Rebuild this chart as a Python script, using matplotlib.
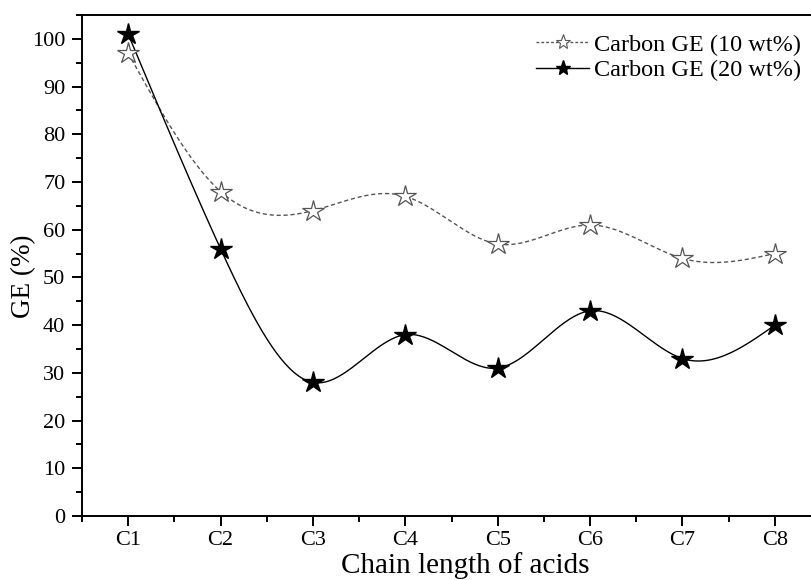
import numpy as np
import matplotlib.pyplot as plt
from matplotlib.ticker import MultipleLocator

plt.rcParams['font.family'] = ['Liberation Serif', 'DejaVu Serif']
plt.rcParams['mathtext.fontset'] = 'stix'

# data
labels = ['C1', 'C2', 'C3', 'C4', 'C5', 'C6', 'C7', 'C8']
ge_10 = [97, 68, 64, 67, 57, 61, 54, 55]
ge_20 = [101, 56, 28, 38, 31, 43, 33, 40]


def spline(x, y, n=40):
    # natural cubic spline, only used to draw the smooth connecting line
    x = np.asarray(x, float)
    y = np.asarray(y, float)
    k = len(x)
    h = np.diff(x)
    A = np.zeros((k, k))
    b = np.zeros(k)
    A[0, 0] = A[-1, -1] = 1
    for i in range(1, k - 1):
        A[i, i - 1] = h[i - 1]
        A[i, i] = 2 * (h[i - 1] + h[i])
        A[i, i + 1] = h[i]
        b[i] = 3 * ((y[i + 1] - y[i]) / h[i] - (y[i] - y[i - 1]) / h[i - 1])
    c = np.linalg.solve(A, b)
    xs, ys = [], []
    for i in range(k - 1):
        t = np.linspace(0, h[i], n, endpoint=(i == k - 2))
        bi = (y[i + 1] - y[i]) / h[i] - h[i] * (2 * c[i] + c[i + 1]) / 3
        di = (c[i + 1] - c[i]) / (3 * h[i])
        xs.append(x[i] + t)
        ys.append(y[i] + bi * t + c[i] * t ** 2 + di * t ** 3)
    return np.concatenate(xs), np.concatenate(ys)


x = np.arange(1, len(labels) + 1)

fig = plt.figure(figsize=(8.11, 5.80), dpi=100)
ax = fig.add_axes([82 / 811, 64 / 580, 739 / 811, 501 / 580])

sx, sy = spline(x, ge_10)
ax.plot(sx, sy, color='#555555', linestyle=(0, (3, 2)), linewidth=1.0)
sx, sy = spline(x, ge_20)
ax.plot(sx, sy, color='black', linestyle='-', linewidth=1.0)

ax.plot(x, ge_10, linestyle='none', marker='*', markersize=16,
        markerfacecolor='white', markeredgecolor='#555555', markeredgewidth=0.9)
ax.plot(x, ge_20, linestyle='none', marker='*', markersize=16,
        markerfacecolor='black', markeredgecolor='black')

# legend handles
h1, = ax.plot([], [], color='#555555', linestyle=(0, (2, 1.5)), linewidth=1.0,
              marker='*', markersize=11, markerfacecolor='white',
              markeredgecolor='#555555', markeredgewidth=0.8)
h2, = ax.plot([], [], color='black', linewidth=1.0, marker='*',
              markersize=11, markerfacecolor='black')
ax.legend([h1, h2], ['Carbon GE (10 wt%)', 'Carbon GE (20 wt%)'],
          loc='upper right', bbox_to_anchor=(0.993, 0.992), frameon=False,
          fontsize=17.5, handlelength=2.2, handletextpad=0.2, labelspacing=0.15,
          borderaxespad=0.2)

ax.set_xlim(0.5, 8.5)
ax.set_ylim(0, 105)
ax.set_xticks(x)
ax.set_xticklabels(labels)
ax.xaxis.set_minor_locator(MultipleLocator(1, offset=0.5))
ax.yaxis.set_major_locator(MultipleLocator(10))
ax.yaxis.set_minor_locator(MultipleLocator(5))
ax.tick_params(which='major', direction='out', length=7, width=1.4, labelsize=16)
ax.tick_params(axis='y', which='major', pad=5)
ax.tick_params(which='minor', direction='out', length=4, width=1.4)
for s in ax.spines.values():
    s.set_linewidth(1.4)

ax.set_xlabel('Chain length of acids', fontsize=21, va='baseline')
ax.xaxis.set_label_coords(0.518, -0.114)
ax.set_ylabel('GE (%)', fontsize=19.5, va='center')
ax.yaxis.set_label_coords(-0.0785, 0.479)

fig.savefig('out.png', dpi=100)
